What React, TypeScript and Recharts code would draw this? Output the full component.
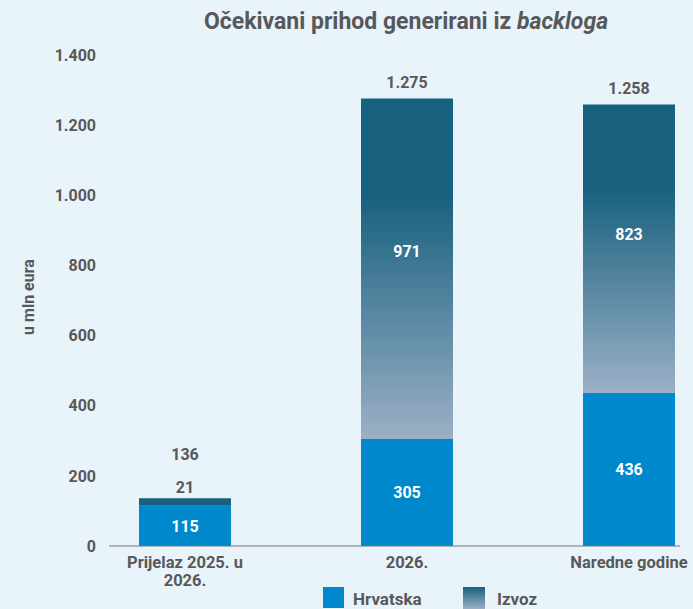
import React from 'react';
import { BarChart, Bar, XAxis, YAxis, Cell, LabelList, Text } from 'recharts';

// chart values
const categories = ['Prijelaz 2025. u 2026.', '2026.', 'Naredne godine'];
const hrvatska = [115, 305, 436];
const izvoz = [21, 971, 823];
const totals = [136, 1275, 1258];
const yTicks = [0, 200, 400, 600, 800, 1000, 1200, 1400];

const data = categories.map((name, i) => ({
  name,
  hrvatska: hrvatska[i],
  izvoz: izvoz[i],
  total: totals[i],
}));

const BG = '#E8F3FA';
const TEXT = '#58585A';
const BLUE = '#0088CC';
const DARK = '#17607E';
const FONT = 'Roboto, "Noto Sans", sans-serif';

// 1275 -> "1.275"
const fmt = (v: number) => String(v).replace(/\B(?=(\d{3})+(?!\d))/g, '.');

const XTick = (props: any) => {
  const { x, y, payload } = props;
  return (
    <Text
      x={x}
      y={y}
      width={130}
      textAnchor="middle"
      verticalAnchor="start"
      lineHeight={18}
      fill={TEXT}
      fontSize={16.5}
      fontWeight={700}
      fontFamily={FONT}
    >
      {payload.value}
    </Text>
  );
};

const IzvozLabel = (props: any) => {
  const { x, y, width, height, index } = props;
  const cx = x + width / 2;
  const small = height < 30;
  return (
    <g fontFamily={FONT} fontWeight={700} fontSize={16} textAnchor="middle">
      {small ? (
        <>
          <text x={cx} y={y - 11} dy="0.35em" fill={TEXT}>{fmt(izvoz[index])}</text>
          <text x={cx} y={y - 44} dy="0.35em" fill={TEXT}>{fmt(totals[index])}</text>
        </>
      ) : (
        <>
          <text x={cx} y={y + height * 0.45} dy="0.35em" fill="#fff">{fmt(izvoz[index])}</text>
          <text x={cx} y={y - 16} dy="0.35em" fill={TEXT}>{fmt(totals[index])}</text>
        </>
      )}
    </g>
  );
};

export default function App() {
  return (
    <div style={{ position: 'relative', width: 693, height: 609, overflow: 'hidden', background: BG }}>
      <style>{`body{margin:0;background:${BG};}`}</style>
      <div
        style={{
          position: 'absolute',
          left: 0,
          top: 9,
          width: 812,
          textAlign: 'center',
          fontFamily: FONT,
          fontWeight: 700,
          fontSize: 23,
          lineHeight: '26px',
          color: TEXT,
        }}
      >
        Očekivani prihod generirani iz <i>backloga</i>
      </div>

      <BarChart width={693} height={609} data={data} margin={{ top: 55, right: 13, left: 0, bottom: 13 }}>
        <defs>
          <linearGradient id="izvozGrad" x1="0" y1="0" x2="0" y2="1">
            <stop offset="0%" stopColor={DARK} />
            <stop offset="28%" stopColor={DARK} />
            <stop offset="100%" stopColor="#9CB0C6" />
          </linearGradient>
        </defs>
        <XAxis
          dataKey="name"
          height={50}
          padding={{ left: -35, right: -60 }}
          tickLine={false}
          tickSize={0}
          tickMargin={10}
          axisLine={{ stroke: '#777', strokeWidth: 1 }}
          tick={<XTick />}
          interval={0}
        />
        <YAxis
          width={109}
          domain={[0, 1400]}
          ticks={yTicks}
          tickFormatter={fmt}
          axisLine={false}
          tickLine={false}
          tickSize={0}
          tickMargin={13}
          tick={{ fill: TEXT, fontSize: 16, fontWeight: 700, fontFamily: FONT }}
          label={{
            content: () => (
              <text
                x={28}
                y={297}
                transform="rotate(-90 28 297)"
                textAnchor="middle"
                dy="0.35em"
                fill={TEXT}
                fontSize={16}
                fontWeight={700}
                fontFamily={FONT}
              >
                u mln eura
              </text>
            ),
          }}
        />
        <Bar dataKey="hrvatska" stackId="a" fill={BLUE} barSize={92} isAnimationActive={false}>
          <LabelList
            dataKey="hrvatska"
            position="center"
            fill="#fff"
            fontSize={16}
            fontWeight={700}
            fontFamily={FONT}
            formatter={(v: any) => fmt(v)}
          />
        </Bar>
        <Bar dataKey="izvoz" stackId="a" barSize={92} isAnimationActive={false}>
          {data.map((d, i) => (
            <Cell key={i} fill={d.izvoz < 100 ? DARK : 'url(#izvozGrad)'} />
          ))}
          <LabelList dataKey="izvoz" content={<IzvozLabel />} />
        </Bar>
      </BarChart>

      {/* legend */}
      <div style={{ position: 'absolute', left: 323, top: 587, fontFamily: FONT, fontWeight: 700, fontSize: 17, color: TEXT }}>
        <div style={{ position: 'absolute', left: 0, top: 0, width: 21, height: 21, background: BLUE }} />
        <div style={{ position: 'absolute', left: 30, top: 1, lineHeight: '22px' }}>Hrvatska</div>
        <div
          style={{
            position: 'absolute',
            left: 140,
            top: 0,
            width: 22,
            height: 22,
            background: `linear-gradient(${DARK}, #9CB0C6)`,
          }}
        />
        <div style={{ position: 'absolute', left: 174, top: 1, lineHeight: '22px' }}>Izvoz</div>
      </div>
    </div>
  );
}
